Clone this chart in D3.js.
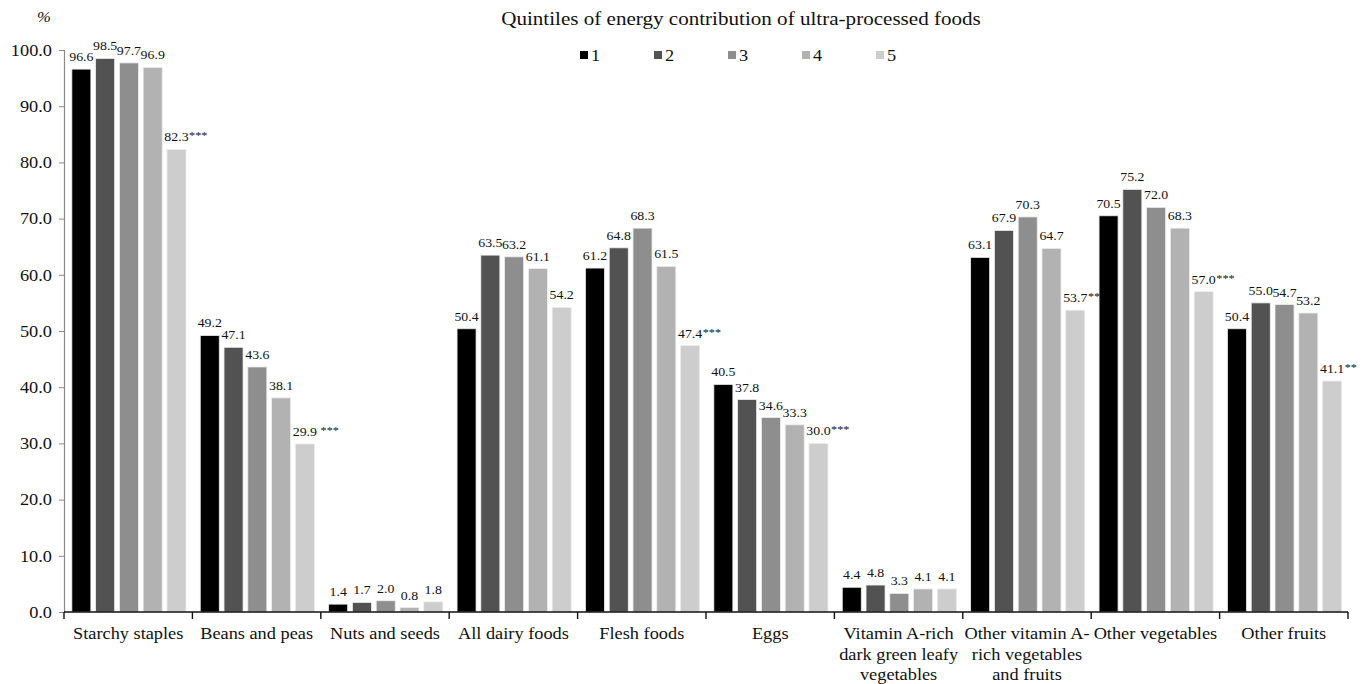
<!DOCTYPE html>
<html><head><meta charset="utf-8">
<script src="https://cdn.jsdelivr.net/npm/d3@7"></script>
<style>
html,body{margin:0;padding:0;background:#fff;}
svg{display:block;}
svg text{font-family:"Liberation Serif","Times New Roman",serif !important;}
</style></head>
<body><svg id="chart" width="1363" height="684"></svg>
<script>
const categories = [
  ["Starchy staples"],
  ["Beans and peas"],
  ["Nuts and seeds"],
  ["All dairy foods"],
  ["Flesh foods"],
  ["Eggs"],
  ["Vitamin A-rich", "dark green leafy", "vegetables"],
  ["Other vitamin A-", "rich vegetables", "and fruits"],
  ["Other vegetables"],
  ["Other fruits"]
];
const quintiles = ["1", "2", "3", "4", "5"];
const q1 = [96.6, 49.2, 1.4, 50.4, 61.2, 40.5, 4.4, 63.1, 70.5, 50.4];
const q2 = [98.5, 47.1, 1.7, 63.5, 64.8, 37.8, 4.8, 67.9, 75.2, 55.0];
const q3 = [97.7, 43.6, 2.0, 63.2, 68.3, 34.6, 3.3, 70.3, 72.0, 54.7];
const q4 = [96.9, 38.1, 0.8, 61.1, 61.5, 33.3, 4.1, 64.7, 68.3, 53.2];
const q5 = [82.3, 29.9, 1.8, 54.2, 47.4, 30.0, 4.1, 53.7, 57.0, 41.1];
const q5Significance = ["***", " ***", "", "", "***", "***", "", "**", "***", "**"];
const yTicks = [0, 10, 20, 30, 40, 50, 60, 70, 80, 90, 100];
const title = "Quintiles of energy contribution of ultra-processed foods";
const yUnit = "%";

const series = [q1, q2, q3, q4, q5];
const colors = ["#000000", "#525252", "#8e8e8e", "#b2b2b2", "#cdcdcd"];

const svg = d3.select("#chart");
const mLeft = 64, mRight = 1348, mTop = 50, mBottom = 612;
const SX = 1.11; // horizontal stretch of the reference's lettering

// text placed at (x,y) and stretched horizontally
function stext(parent, x, y, str, size, anchor) {
  return parent.append("text")
    .attr("transform", `translate(${x},${y}) scale(${SX},1)`)
    .attr("text-anchor", anchor || "start")
    .attr("font-size", size).attr("fill", "#111").text(str);
}

const x0 = d3.scaleBand().domain(d3.range(categories.length)).range([mLeft, mRight]).padding(0);
const x1 = d3.scaleBand().domain(d3.range(quintiles.length)).range([0, x0.bandwidth()])
  .paddingInner(0.2).paddingOuter(0.3).align(0.55);
const y = d3.scaleLinear().domain([0, 100]).range([mBottom, mTop]);
const color = d3.scaleOrdinal().domain(d3.range(5)).range(colors);

// Y axis
const yAxis = svg.append("g").attr("transform", `translate(${mLeft},0)`)
  .call(d3.axisLeft(y).tickValues(yTicks).tickFormat(d3.format(".1f")).tickSize(5).tickPadding(6));
yAxis.select(".domain").attr("stroke", "#8a8a8a").attr("stroke-width", 1.2);
yAxis.selectAll(".tick line").attr("stroke", "#8a8a8a");
yAxis.selectAll(".tick text").attr("font-size", 16.5).attr("fill", "#111")
  .attr("x", -12 / SX).attr("transform", `scale(${SX},1)`);

stext(svg, 44, 22, yUnit, 15, "middle").attr("font-style", "italic");

// Bars
const rows = [];
categories.forEach((c, i) => series.forEach((s, j) => rows.push({i, j, v: s[i]})));

svg.append("g").selectAll("rect").data(rows).join("rect")
  .attr("x", d => x0(d.i) + x1(d.j))
  .attr("width", x1.bandwidth())
  .attr("y", d => y(d.v))
  .attr("height", d => y(0) - y(d.v))
  .attr("fill", d => color(d.j))
  .attr("stroke", "#ececec").attr("stroke-width", 0.8);

// Value labels
const lg = svg.append("g");
rows.forEach(d => {
  const cx = x0(d.i) + x1(d.j) + x1.bandwidth() / 2;
  const ty = y(d.v) - 8;
  const t = stext(lg, cx, ty, d3.format(".1f")(d.v), 12.5, "middle");
  if (d.j === 4 && q5Significance[d.i]) {
    const w = t.node().getComputedTextLength() * SX;
    stext(lg, cx + w / 2 + 0.5, ty - 2, q5Significance[d.i], 11, "start")
      .style("white-space", "pre");
  }
});

// X axis
svg.append("line").attr("x1", mLeft).attr("x2", mRight).attr("y1", mBottom).attr("y2", mBottom)
  .attr("stroke", "#111").attr("stroke-width", 1.6);
const bounds = d3.range(categories.length + 1).map(i => i < categories.length ? x0(i) : mRight);
svg.append("g").selectAll("line").data(bounds).join("line")
  .attr("x1", d => d).attr("x2", d => d).attr("y1", mBottom).attr("y2", mBottom + 7)
  .attr("stroke", "#111").attr("stroke-width", 1.4);

const cg = svg.append("g");
categories.forEach((lines, i) => {
  lines.forEach((ln, k) => stext(cg, x0(i) + x0.bandwidth() / 2, 639 + k * 20.5, ln, 16.5, "middle"));
});

// Title
stext(svg, 741, 25, title, 19, "middle");

// Legend
const legX = d3.scalePoint().domain(quintiles).range([580, 876]);
const leg = svg.append("g");
quintiles.forEach((q, j) => {
  leg.append("rect").attr("x", legX(q)).attr("y", 51).attr("width", 8).attr("height", 8)
    .attr("fill", colors[j]);
  stext(leg, legX(q) + 11, 61, q, 16.5, "start");
});
</script>
</body></html>
